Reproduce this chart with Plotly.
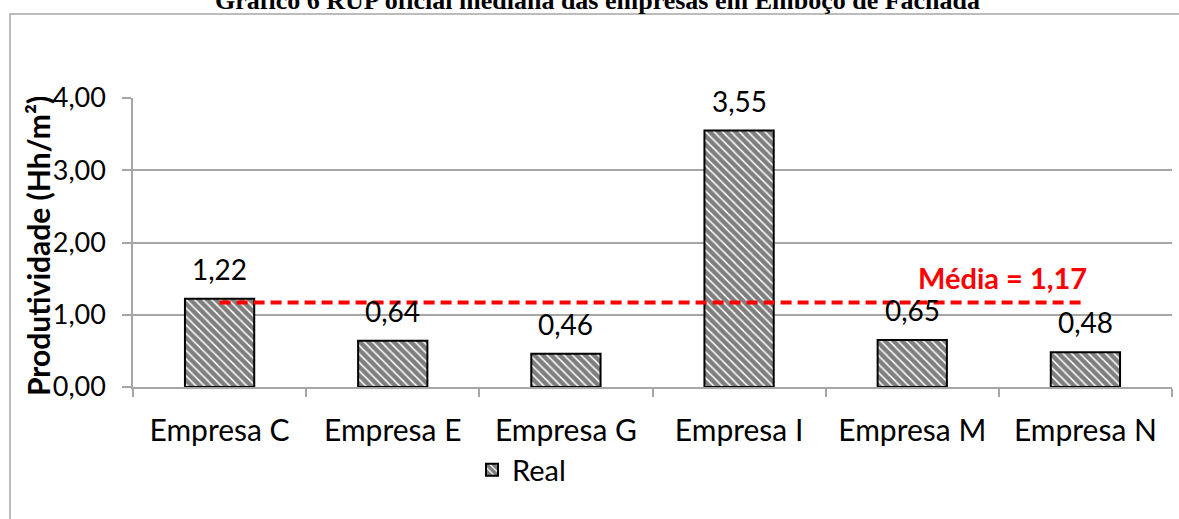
import plotly.graph_objects as go

# ---- data ----
categories = ["Empresa C", "Empresa E", "Empresa G", "Empresa I", "Empresa M", "Empresa N"]
real_values = [1.22, 0.64, 0.46, 3.55, 0.65, 0.48]
value_labels = ["1,22", "0,64", "0,46", "3,55", "0,65", "0,48"]
mean_value = 1.17
mean_label = "Média = 1,17"
series_name = "Real"
title_text = "Gráfico 6 RUP oficial mediana das empresas em Emboço de Fachada"
y_title = "Produtividade (Hh/m²)"
y_ticks = [0, 1, 2, 3, 4]

# ---- layout geometry (pixels) ----
W, H = 1179, 519
L, R, T, B = 133, 1172, 98, 387
PW, PH = R - L, B - T


def px_x(px):
    return (px - L) / PW


def px_y(py):
    return (B - py) / PH


FONT = "Lato"
GRID = "#A6A6A6"

fig = go.Figure()

fig.add_trace(go.Bar(
    x=categories,
    y=real_values,
    name=series_name,
    width=0.4,
    marker=dict(
        color="white",
        line=dict(color="black", width=2),
        pattern=dict(shape="\\", size=6, solidity=0.75, fgcolor="black", bgcolor="white"),
    ),
    showlegend=True,
))

fig.add_trace(go.Scatter(
    x=[categories[0], categories[-1]],
    y=[mean_value, mean_value],
    mode="lines",
    line=dict(color="#FF0000", width=4, dash="11px,6px"),
    showlegend=False,
    hoverinfo="skip",
))

annotations = []
for c, v, lab in zip(categories, real_values, value_labels):
    annotations.append(dict(
        x=c, y=v, xref="x", yref="y", text=lab, showarrow=False,
        yanchor="middle", xanchor="center", yshift=30,
        font=dict(family=FONT, size=28, color="black"),
    ))

annotations.append(dict(
    x=categories[-1], y=mean_value, xref="x", yref="y", text="<b>%s</b>" % mean_label,
    showarrow=False, xanchor="right", yanchor="middle", xshift=4, yshift=(B - 277) - mean_value * PH / 4,
    font=dict(family=FONT, size=29, color="#FF0000"),
))

annotations.append(dict(
    x=px_x(38), y=px_y(246), xref="paper", yref="paper", text="<b>%s</b>" % y_title,
    showarrow=False, textangle=-90, xanchor="center", yanchor="middle",
    font=dict(family=FONT, size=30, color="black"),
))

annotations.append(dict(
    x=px_x(597), y=px_y(1), xref="paper", yref="paper", text="<b>%s</b>" % title_text,
    showarrow=False, xanchor="center", yanchor="middle",
    font=dict(family="Liberation Serif", size=26, color="black"),
))

fig.update_layout(
    width=W, height=H,
    margin=dict(l=L, r=W - R, t=T, b=H - B, pad=0),
    paper_bgcolor="white",
    plot_bgcolor="white",
    separators=",.",
    bargap=0.6,
    annotations=annotations,
    showlegend=True,
    legend=dict(
        orientation="h",
        x=px_x(472), y=px_y(470), xanchor="left", yanchor="middle",
        font=dict(family=FONT, size=29, color="black"),
        bgcolor="rgba(0,0,0,0)",
    ),
    shapes=[dict(
        type="rect", xref="paper", yref="paper",
        x0=px_x(10), x1=px_x(1200), y0=px_y(540), y1=px_y(14),
        line=dict(color=GRID, width=1.5), fillcolor="rgba(0,0,0,0)", layer="below",
    )],
)

fig.update_xaxes(
    type="category",
    showgrid=False,
    showline=True, linecolor=GRID, linewidth=1.5,
    ticks="outside", tickson="boundaries", ticklen=8, tickcolor=GRID, tickwidth=1.5,
    tickfont=dict(family=FONT, size=30, color="black"),
    ticklabelstandoff=16,
    zeroline=False,
)

fig.update_yaxes(
    range=[0, 4],
    tickvals=y_ticks,
    tickformat=".2f",
    showgrid=True, gridcolor=GRID, gridwidth=1.5,
    showline=True, linecolor=GRID, linewidth=1.5,
    ticks="outside", ticklen=9, tickcolor=GRID, tickwidth=1.5,
    tickfont=dict(family=FONT, size=27, color="black"),
    ticklabelstandoff=11,
    zeroline=False,
)

fig.write_html(
    "out.html",
    config={"displayModeBar": False},
    post_script="document.body.style.margin='0';document.body.style.overflow='hidden';",
)
